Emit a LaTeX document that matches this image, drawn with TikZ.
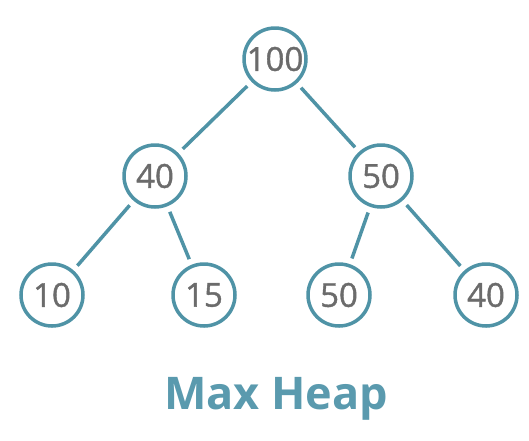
\documentclass[tikz,border=0pt]{standalone}
\usepackage{fontspec}
\setmainfont{Open Sans}
\newfontfamily\numfont[FakeBold=1.2]{Open Sans}
\definecolor{heapteal}{HTML}{4F93A6}
\definecolor{titleteal}{HTML}{5A9AAE}
\definecolor{numgray}{HTML}{6B6B6B}
\begin{document}
\begin{tikzpicture}[x=1pt,y=-1pt,
  hnode/.style={circle,draw=heapteal,line width=3.5pt,minimum size=62pt,inner sep=0pt,
    text=numgray,font=\numfont\fontsize{33}{33}\selectfont},
  hedge/.style={draw=heapteal,line width=3.5pt,shorten <=6pt,shorten >=6pt}]
\useasboundingbox (0,0) rectangle (529,440);
\node[hnode] (r) at (275,59) {100};
\node[hnode] (a) at (155,176) {40};
\node[hnode] (b) at (381,176) {50};
\node[hnode] (c) at (52,295) {10};
\node[hnode] (d) at (204,295) {15};
\node[hnode] (e) at (339,295) {50};
\node[hnode] (f) at (486,295) {40};
\draw[hedge] (r) -- (a);
\draw[hedge] (r) -- (b);
\draw[hedge] (a) -- (c);
\draw[hedge] (a) -- (d);
\draw[hedge] (b) -- (e);
\draw[hedge] (b) -- (f);
\node[text=titleteal,font=\fontsize{45}{45}\selectfont\bfseries,anchor=base] (t) at (276,409) {Max Heap};
\end{tikzpicture}
\end{document}
